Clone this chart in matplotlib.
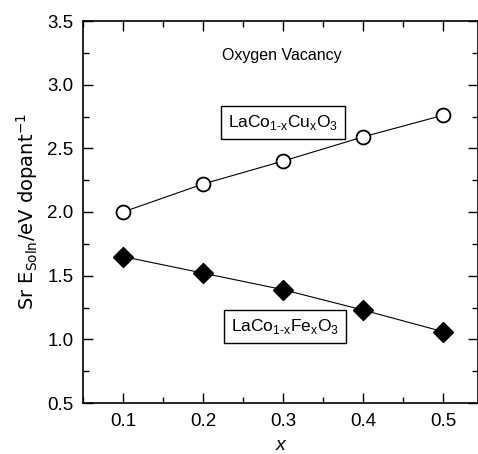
import matplotlib
matplotlib.use("Agg")
import matplotlib.pyplot as plt
from matplotlib.ticker import MultipleLocator, FormatStrFormatter

x_vals = [0.1, 0.2, 0.3, 0.4, 0.5]
cu_vals = [2.00, 2.22, 2.40, 2.59, 2.76]
fe_vals = [1.65, 1.52, 1.39, 1.23, 1.06]

tfont = 'Liberation Sans'

fig = plt.figure(figsize=(4.78, 4.54), dpi=100)
ax = fig.add_axes([83/478, 1-403/454, (478-83)/478, (403-21)/454])

ax.plot(x_vals, cu_vals, '-', color='black', lw=0.8, marker='o', ms=10,
        mfc='white', mec='black', mew=1.3)
ax.plot(x_vals, fe_vals, '-', color='black', lw=0.8, marker='D', ms=10,
        mfc='black', mec='black')

ax.set_xlim(0.05, 0.5435)
ax.set_ylim(0.5, 3.5)
ax.xaxis.set_major_locator(MultipleLocator(0.1))
ax.xaxis.set_minor_locator(MultipleLocator(0.05))
ax.yaxis.set_major_locator(MultipleLocator(0.5))
ax.yaxis.set_minor_locator(MultipleLocator(0.25))
ax.tick_params(which='both', direction='in', top=True, right=True, width=1.0)
ax.tick_params(which='major', length=7, labelsize=13.5, pad=7)
ax.tick_params(which='minor', length=4)
ax.xaxis.set_major_formatter(FormatStrFormatter('%.1f'))
ax.yaxis.set_major_formatter(FormatStrFormatter('%.1f'))
for lab in ax.get_xticklabels() + ax.get_yticklabels():
    lab.set_family(tfont)
for s in ax.spines.values():
    s.set_linewidth(1.2)

ax.set_xlabel('x', fontstyle='italic', fontsize=14, labelpad=5, family=tfont)
ax.set_ylabel(r'Sr E$_{\mathregular{Soln}}$/eV dopant$^{\mathregular{-1}}$', fontsize=14, labelpad=5)

ax.text(0.298, 3.23, 'Oxygen Vacancy', ha='center', va='center', fontsize=11.5, family=tfont)
box = dict(boxstyle='square,pad=0.4', fc='white', ec='black', lw=1.0)
ax.text(0.30, 2.70, 'LaCo$_{\\mathregular{1\u2010x}}$Cu$_{\\mathregular{x}}$O$_{\\mathregular{3}}$',
        ha='center', va='center', fontsize=12.5, family=tfont, bbox=box)
ax.text(0.302, 1.10, 'LaCo$_{\\mathregular{1\u2010x}}$Fe$_{\\mathregular{x}}$O$_{\\mathregular{3}}$',
        ha='center', va='center', fontsize=12.5, family=tfont, bbox=box)

fig.savefig('out.png', dpi=100)
